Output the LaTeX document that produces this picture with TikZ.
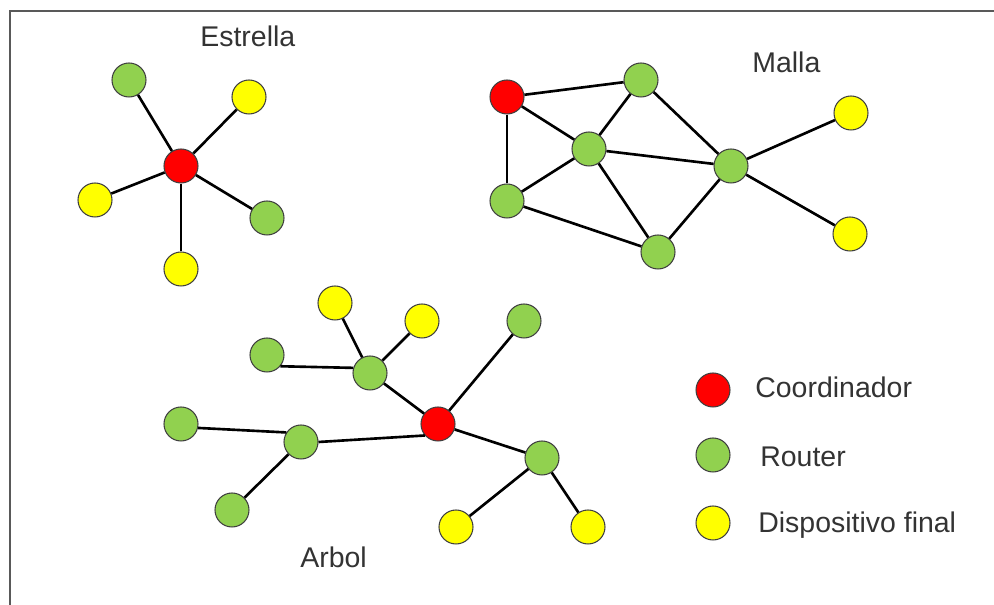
\documentclass[tikz,border=0pt]{standalone}
\usepackage{fontspec}
\setmainfont{Liberation Sans}
\definecolor{CoordClr}{rgb}{1,0,0}
\definecolor{RouterClr}{rgb}{0.57,0.82,0.31}
\definecolor{EndClr}{rgb}{1,1,0}
\definecolor{TextClr}{rgb}{0.2,0.2,0.2}

\begin{document}
\begin{tikzpicture}[
  dev/.style={circle,draw=black!75,line width=0.6pt,minimum size=0.68cm,inner sep=0pt},
  coord/.style={dev,fill=CoordClr},
  router/.style={dev,fill=RouterClr},
  enddev/.style={dev,fill=EndClr},
  link/.style={line width=1.5pt,color=black},
  title/.style={anchor=base west,inner sep=0pt,text=TextClr,font=\fontsize{16.2}{19}\selectfont}]
\useasboundingbox (0,0) rectangle (19.88,12.10);

% Πλαίσιο (μόνο αριστερή και πάνω πλευρά).
\draw[line width=1.2pt,color=black!65] (0.20,0) -- (0.20,11.88) -- (19.88,11.88);

% Τοπολογία αστέρα.
\node[coord]  (s0) at (3.62,8.78) {};
\node[router] (s1) at (2.58,10.50) {};
\node[enddev] (s2) at (4.98,10.16) {};
\node[enddev] (s3) at (1.90,8.10) {};
\node[router] (s4) at (5.34,7.74) {};
\node[enddev] (s5) at (3.62,6.72) {};
\foreach \n in {s1,s2,s3,s4,s5}
  \draw[link] (s0) -- (\n);
\node[title] (estrella) at (4.00,11.16) {Estrella};

% Τοπολογία πλέγματος.
\node[coord]  (m0) at (10.14,10.16) {};
\node[router] (m1) at (12.82,10.50) {};
\node[router] (m2) at (11.78,9.12) {};
\node[router] (m3) at (14.62,8.78) {};
\node[router] (m4) at (10.14,8.08) {};
\node[router] (m5) at (13.16,7.06) {};
\node[enddev] (m6) at (17.02,9.84) {};
\node[enddev] (m7) at (17.00,7.42) {};
\foreach \a/\b in {m0/m1,m0/m2,m0/m4,m1/m2,m1/m3,m2/m3,m2/m4,m2/m5,m4/m5,m5/m3,m3/m6,m3/m7}
  \draw[link] (\a) -- (\b);
\node[title] (malla) at (15.04,10.64) {Malla};

% Τοπολογία δέντρου.
\node[coord]  (t0)  at (8.76,3.62) {};
\node[router] (t1)  at (7.40,4.64) {};
\node[enddev] (t2)  at (6.70,6.04) {};
\node[enddev] (t3)  at (8.44,5.68) {};
\node[router] (t4)  at (5.34,5.00) {};
\node[router] (t5)  at (10.48,5.68) {};
\node[router] (t6)  at (6.02,3.26) {};
\node[router] (t7)  at (3.62,3.62) {};
\node[router] (t8)  at (4.64,1.90) {};
\node[router] (t9)  at (10.84,2.94) {};
\node[enddev] (t10) at (9.12,1.56) {};
\node[enddev] (t11) at (11.76,1.56) {};
\foreach \a/\b in {t0/t1,t1/t2,t1/t3,t0/t5,t0/t9,t9/t10,t9/t11,t6/t8}
  \draw[link] (\a) -- (\b);
\draw[link] (t4.-40) -- (t1.163);
\draw[link] (t7.-13) -- (t6.147);
\draw[link] (t6.0) -- (t0.221);
\node[title] (arbol) at (6.00,0.74) {Arbol};

% Υπόμνημα.
\node[coord]  (l1) at (14.26,4.30) {};
\node[router] (l2) at (14.26,3.00) {};
\node[enddev] (l3) at (14.26,1.64) {};
\node[title] (coordtxt)  at (15.10,4.14) {Coordinador};
\node[title] (routertxt) at (15.20,2.76) {Router};
\node[title] (endtxt)    at (15.16,1.44) {Dispositivo final};

\end{tikzpicture}
\end{document}
